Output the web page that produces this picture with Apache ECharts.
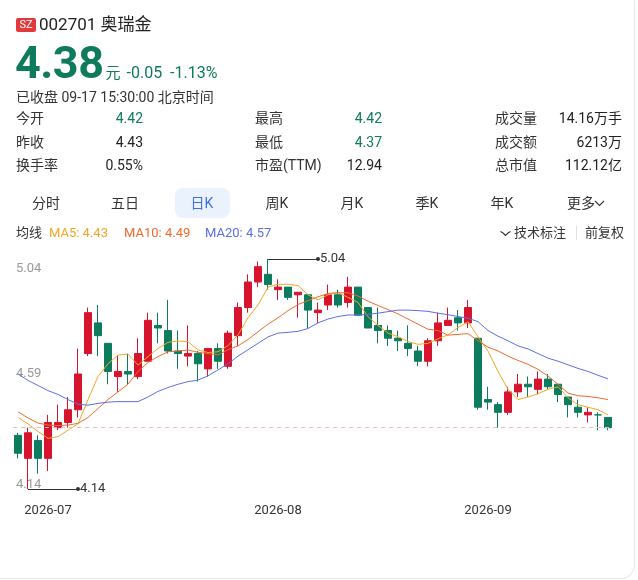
<!DOCTYPE html>
<html>
<head>
<meta charset="utf-8">
<script src="https://cdn.jsdelivr.net/npm/echarts@6/dist/echarts.min.js"></script>
<style>
body{margin:0;background:#fff;font-family:Roboto,"Noto Sans CJK SC",sans-serif;color:#222;}
#wrap{position:relative;width:638px;height:580px;overflow:hidden;}
.card{position:absolute;left:-12px;top:-12px;width:645px;height:589px;border:1px solid #e6e6e6;border-radius:14px;box-sizing:border-box;width:647px;height:591px;}
#chart{position:absolute;left:0;top:0;width:638px;height:580px;}
.abs{position:absolute;white-space:nowrap;line-height:20px;}
.lab{font-size:14px;color:#333;}
.val{font-size:14px;color:#222;text-align:right;}
.g{color:#0f7b5d;}
.tab{position:absolute;top:193px;width:60px;text-align:center;font-size:14px;color:#333;line-height:20px;}
</style>
</head>
<body>
<div id="wrap">
  <div class="card"></div>
  <div id="chart"></div>

  <div class="abs" style="left:16px;top:18px;width:20px;height:14px;background:#e23a3c;border-radius:2px;color:#fff;font-size:11px;line-height:14px;text-align:center;">SZ</div>
  <div class="abs" style="left:39px;top:14px;font-size:17px;color:#222;">002701 奥瑞金</div>

  <div class="abs g" style="left:15px;top:40px;line-height:45px;">
    <span style="font-size:45px;font-weight:bold;letter-spacing:-0.5px;">4.38</span><span style="font-size:15px;margin-left:2px;">元</span><span style="font-size:16px;margin-left:6px;">-0.05&nbsp;&nbsp;-1.13%</span>
  </div>

  <div class="abs lab" style="left:16px;top:87px;">已收盘 09-17 15:30:00 北京时间</div>

  <div class="abs lab" style="left:16px;top:108px;">今开</div>
  <div class="abs val g" style="right:495px;top:108px;">4.42</div>
  <div class="abs lab" style="left:255px;top:108px;">最高</div>
  <div class="abs val g" style="right:256px;top:108px;">4.42</div>
  <div class="abs lab" style="left:495px;top:108px;">成交量</div>
  <div class="abs val" style="right:16px;top:108px;">14.16万手</div>

  <div class="abs lab" style="left:16px;top:132px;">昨收</div>
  <div class="abs val" style="right:495px;top:132px;">4.43</div>
  <div class="abs lab" style="left:255px;top:132px;">最低</div>
  <div class="abs val g" style="right:256px;top:132px;">4.37</div>
  <div class="abs lab" style="left:495px;top:132px;">成交额</div>
  <div class="abs val" style="right:16px;top:132px;">6213万</div>

  <div class="abs lab" style="left:16px;top:155px;">换手率</div>
  <div class="abs val" style="right:495px;top:155px;">0.55%</div>
  <div class="abs lab" style="left:255px;top:155px;">市盈(TTM)</div>
  <div class="abs val" style="right:256px;top:155px;">12.94</div>
  <div class="abs lab" style="left:495px;top:155px;">总市值</div>
  <div class="abs val" style="right:16px;top:155px;">112.12亿</div>

  <div class="abs" style="left:175px;top:188px;width:55px;height:30px;background:#eaf2fe;border-radius:8px;"></div>
  <div class="tab" style="left:16px;">分时</div>
  <div class="tab" style="left:95px;">五日</div>
  <div class="tab" style="left:172px;color:#3f6fe3;">日K</div>
  <div class="tab" style="left:247px;">周K</div>
  <div class="tab" style="left:322px;">月K</div>
  <div class="tab" style="left:397px;">季K</div>
  <div class="tab" style="left:472px;">年K</div>
  <div class="abs lab" style="left:567px;top:193px;">更多</div>
  <svg class="abs" style="left:594px;top:200px;" width="11" height="7"><polyline points="1,1 5.5,5.5 10,1" fill="none" stroke="#333" stroke-width="1.1"/></svg>

  <div class="abs" style="left:16px;top:223px;font-size:13px;color:#333;">均线</div>
  <div class="abs" style="left:49px;top:223px;font-size:13px;color:#f5a623;">MA5: 4.43</div>
  <div class="abs" style="left:124px;top:223px;font-size:13px;color:#ef6a2c;">MA10: 4.49</div>
  <div class="abs" style="left:205px;top:223px;font-size:13px;color:#5b70e2;">MA20: 4.57</div>
  <svg class="abs" style="left:500px;top:230px;" width="11" height="7"><polyline points="0.5,1.5 3,3 5.5,5.5 8,3 10.5,1.5" fill="none" stroke="#333" stroke-width="1.1"/></svg>
  <div class="abs" style="left:514px;top:223px;font-size:13px;color:#333;">技术标注</div>
  <div class="abs" style="left:576px;top:226px;width:1px;height:14px;background:#e0e0e0;"></div>
  <div class="abs" style="left:585px;top:223px;font-size:13px;color:#333;">前复权</div>
</div>

<script>
// 日K 数据
var dates = [
  '2026-06-26','2026-06-29','2026-06-30',
  '2026-07-01','2026-07-02','2026-07-03','2026-07-06','2026-07-07','2026-07-08','2026-07-09','2026-07-10',
  '2026-07-13','2026-07-14','2026-07-15','2026-07-16','2026-07-17','2026-07-20','2026-07-21','2026-07-22',
  '2026-07-23','2026-07-24','2026-07-27','2026-07-28','2026-07-29','2026-07-30','2026-07-31',
  '2026-08-03','2026-08-04','2026-08-05','2026-08-06','2026-08-07','2026-08-10','2026-08-11','2026-08-12',
  '2026-08-13','2026-08-14','2026-08-17','2026-08-18','2026-08-19','2026-08-20','2026-08-21','2026-08-24',
  '2026-08-25','2026-08-26','2026-08-27','2026-08-28','2026-08-31',
  '2026-09-01','2026-09-02','2026-09-03','2026-09-04','2026-09-07','2026-09-08','2026-09-09','2026-09-10',
  '2026-09-11','2026-09-14','2026-09-15','2026-09-16','2026-09-17'
];
var openP = [4.35,4.26,4.33,4.26,4.38,4.40,4.45,4.67,4.79,4.71,4.58,4.60,4.58,4.64,4.78,4.76,4.68,4.66,4.67,4.61,
             4.69,4.62,4.74,4.85,4.95,4.98,4.92,4.93,4.90,4.90,4.83,4.86,4.90,4.87,4.93,4.85,4.78,4.76,4.73,4.71,
             4.68,4.64,4.72,4.78,4.81,4.79,4.73,4.49,4.47,4.44,4.52,4.55,4.53,4.57,4.55,4.50,4.46,4.43,4.43,4.42];
var closeP = [4.28,4.36,4.26,4.40,4.40,4.45,4.59,4.83,4.74,4.60,4.60,4.59,4.67,4.80,4.77,4.68,4.67,4.67,4.63,4.69,
              4.64,4.75,4.85,4.95,5.01,4.94,4.93,4.89,4.91,4.84,4.84,4.90,4.86,4.93,4.82,4.77,4.76,4.73,4.72,4.69,
              4.64,4.72,4.79,4.80,4.79,4.85,4.46,4.48,4.44,4.52,4.55,4.54,4.57,4.54,4.51,4.47,4.44,4.44,4.43,4.38];
var lowP = [4.26,4.14,4.20,4.21,4.37,4.38,4.42,4.66,4.66,4.55,4.52,4.55,4.57,4.64,4.71,4.67,4.61,4.62,4.56,4.58,
            4.61,4.61,4.70,4.83,4.93,4.92,4.88,4.88,4.81,4.77,4.79,4.84,4.85,4.85,4.82,4.77,4.71,4.70,4.68,4.66,
            4.62,4.62,4.70,4.78,4.76,4.77,4.45,4.45,4.38,4.43,4.50,4.50,4.51,4.53,4.48,4.42,4.42,4.40,4.37,4.37];
var highP = [4.36,4.38,4.35,4.43,4.47,4.50,4.69,4.85,4.86,4.71,4.66,4.67,4.73,4.83,4.83,4.88,4.76,4.78,4.68,4.69,
             4.71,4.76,4.87,4.98,5.03,5.04,4.96,4.93,4.91,4.90,4.87,4.94,4.92,4.97,4.93,4.85,4.85,4.78,4.76,4.78,
             4.70,4.73,4.83,4.85,4.84,4.88,4.73,4.54,4.48,4.54,4.59,4.58,4.60,4.59,4.55,4.50,4.49,4.46,4.44,4.42];
var ma5 = [4.42,4.395,4.365,4.338,4.345,4.37,4.395,4.49,4.58,4.63,4.664,4.668,4.625,4.658,4.69,4.714,4.719,4.717,4.684,4.674,
           4.677,4.701,4.743,4.81,4.86,4.93,4.941,4.941,4.936,4.90,4.88,4.90,4.908,4.89,4.87,4.814,4.78,4.75,4.736,4.717,
           4.706,4.71,4.728,4.743,4.772,4.795,4.735,4.68,4.60,4.53,4.49,4.50,4.513,4.53,4.54,4.497,4.47,4.46,4.45,4.43];
var ma10 = [4.442,4.418,4.398,4.39,4.388,4.39,4.397,4.42,4.455,4.49,4.52,4.55,4.60,4.635,4.658,4.677,4.68,4.684,4.675,4.67,
            4.665,4.685,4.70,4.725,4.755,4.785,4.81,4.838,4.862,4.877,4.892,4.905,4.908,4.908,4.895,4.875,4.858,4.842,4.825,4.805,
            4.785,4.765,4.76,4.742,4.745,4.748,4.72,4.695,4.68,4.66,4.643,4.628,4.608,4.582,4.55,4.515,4.505,4.502,4.497,4.49];
var ma20 = [4.59,4.565,4.545,4.525,4.51,4.49,4.472,4.468,4.475,4.48,4.482,4.482,4.482,4.50,4.522,4.537,4.55,4.56,4.566,4.583,
            4.606,4.63,4.66,4.685,4.71,4.735,4.75,4.753,4.757,4.768,4.79,4.805,4.815,4.821,4.821,4.823,4.828,4.834,4.84,4.84,
            4.838,4.835,4.828,4.822,4.815,4.808,4.795,4.76,4.738,4.72,4.70,4.688,4.67,4.652,4.64,4.626,4.612,4.60,4.585,4.571];
var yTicks = [4.14, 4.59, 5.04];

var upColor = '#d7142e';
var downColor = '#0c7b5e';

var candles = dates.map(function (d, i) {
    return [openP[i], closeP[i], lowP[i], highP[i]];
});
var yMax = Math.max.apply(null, highP);
var yMin = Math.min.apply(null, lowP);
var maxIdx = highP.indexOf(yMax);
var minIdx = lowP.indexOf(yMin);
var lastClose = closeP[closeP.length - 1];

function extremeLine(idx, val) {
    var lbl = {show: true, position: 'end', distance: 2, color: '#333', fontSize: 13, fontFamily: 'Roboto',
               formatter: val.toFixed(2)};
    return [
        {coord: [dates[idx], val], symbol: 'none', label: lbl},
        {coord: [dates[idx + 5], val], symbol: 'circle', symbolSize: 4, label: lbl}
    ];
}

var myChart = echarts.init(document.getElementById('chart'));
var option = {
    animation: false,
    grid: {left: 13, top: 259, width: 600, height: 230},
    xAxis: {
        type: 'category',
        data: dates,
        boundaryGap: true,
        axisLine: {show: false},
        axisTick: {show: false},
        splitLine: {show: false},
        axisLabel: {
            interval: function (i) {
                return i > 0 && dates[i].slice(0, 7) !== dates[i - 1].slice(0, 7);
            },
            formatter: function (v) { return v.slice(0, 7); },
            color: '#333',
            fontSize: 13,
            fontFamily: 'Roboto',
            margin: 15
        }
    },
    yAxis: {
        type: 'value',
        min: yMin,
        max: yMax,
        axisLine: {show: false},
        axisTick: {show: false},
        splitLine: {show: false},
        axisLabel: {
            inside: true,
            margin: 3,
            customValues: yTicks,
            color: '#999',
            fontSize: 13,
            fontFamily: 'Roboto',
            formatter: function (v) {
                var s = v.toFixed(2);
                if (v >= yMax - 1e-6) return '{t|' + s + '}';
                if (v <= yMin + 1e-6) return '{b|' + s + '}';
                return '{m|' + s + '}';
            },
            rich: {
                t: {color: '#999', fontSize: 13, fontFamily: 'Roboto', lineHeight: 15, padding: [20, 0, 0, 0]},
                m: {color: '#999', fontSize: 13, fontFamily: 'Roboto', lineHeight: 15},
                b: {color: '#999', fontSize: 13, fontFamily: 'Roboto', lineHeight: 15, padding: [0, 0, 8, 0]}
            }
        }
    },
    series: [
        {
            type: 'candlestick',
            data: candles,
            barWidth: 7,
            itemStyle: {
                color: upColor,
                color0: downColor,
                borderColor: upColor,
                borderColor0: downColor,
                borderColorDoji: downColor,
                borderWidth: 1
            },
            markLine: {
                silent: true,
                animation: false,
                symbol: ['none', 'none'],
                lineStyle: {color: '#333', width: 1, type: 'solid'},
                data: [
                    {yAxis: lastClose, symbol: 'none', label: {show: false},
                     lineStyle: {type: [4, 4], color: '#f3b7b7', width: 1}},
                    extremeLine(maxIdx, yMax),
                    extremeLine(minIdx, yMin)
                ]
            }
        },
        {name: 'MA5', type: 'line', data: ma5, showSymbol: false, z: 3,
         lineStyle: {color: '#f5a623', width: 1}, itemStyle: {color: '#f5a623'}},
        {name: 'MA10', type: 'line', data: ma10, showSymbol: false, z: 3,
         lineStyle: {color: '#ef6a2c', width: 1}, itemStyle: {color: '#ef6a2c'}},
        {name: 'MA20', type: 'line', data: ma20, showSymbol: false, z: 3,
         lineStyle: {color: '#5b70e2', width: 1}, itemStyle: {color: '#5b70e2'}}
    ]
};
myChart.setOption(option);
</script>
</body>
</html>
